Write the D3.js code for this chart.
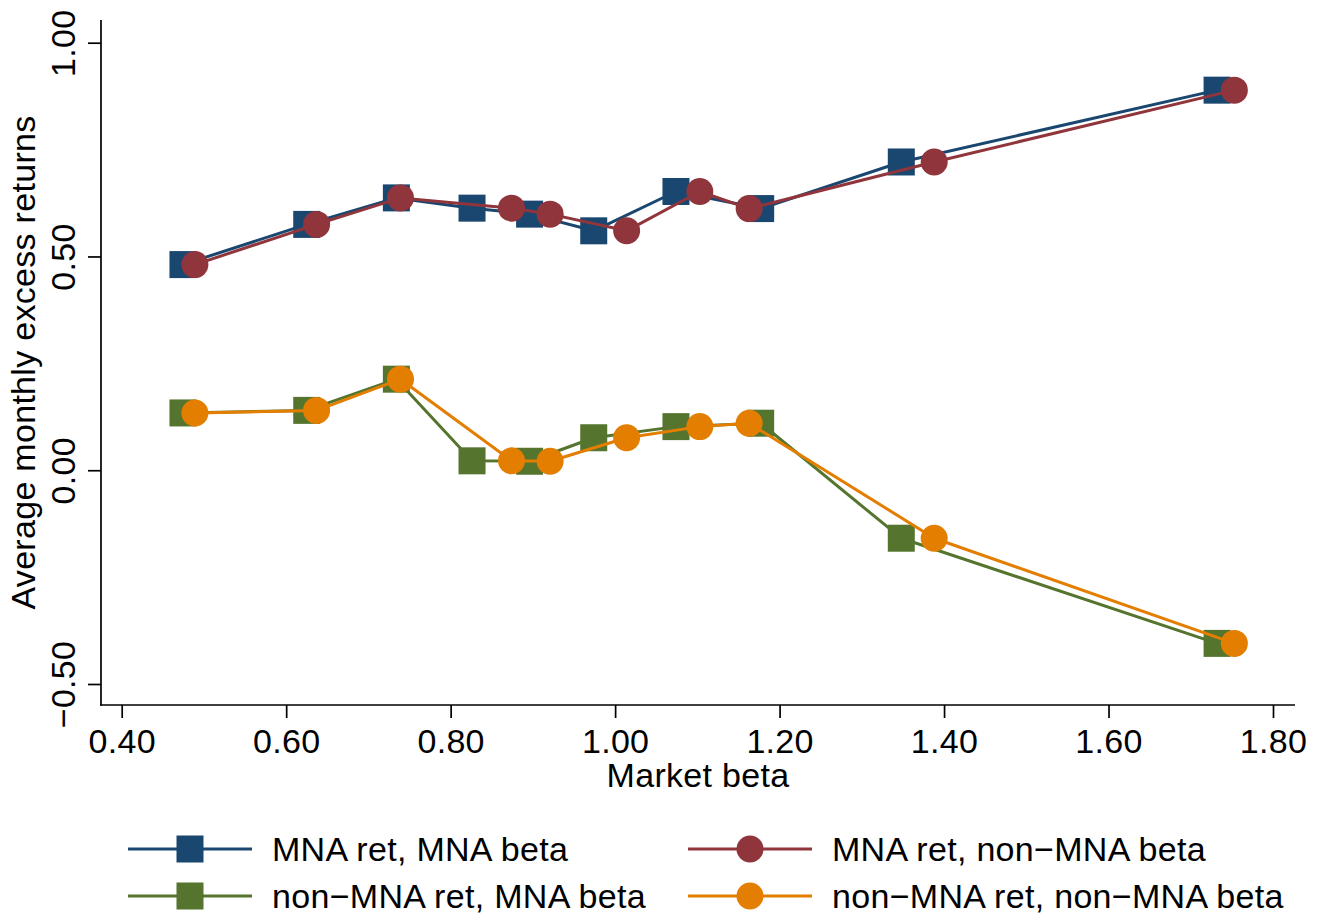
<!DOCTYPE html>
<html>
<head>
<meta charset="utf-8">
<script src="https://cdn.jsdelivr.net/npm/d3@7"></script>
<style>
  html, body { margin: 0; padding: 0; background: #fff; }
  svg { display: block; }
  text { font-family: "Liberation Sans", Arial, Helvetica, sans-serif; fill: #000; }
</style>
</head>
<body>
<svg id="chart" width="1325" height="917"></svg>
<script>
// ---- data ----
const betaMNA    = [0.4745, 0.625, 0.734, 0.826, 0.896, 0.974, 1.074, 1.177, 1.348, 1.732];
const betaNonMNA = [0.489, 0.637, 0.739, 0.874, 0.921, 1.014, 1.103, 1.163, 1.388, 1.753];
const retMNA     = [0.481, 0.575, 0.637, 0.613, 0.599, 0.560, 0.652, 0.612, 0.721, 0.889];
const retNonMNA  = [0.134, 0.140, 0.213, 0.022, 0.021, 0.076, 0.102, 0.110, -0.159, -0.405];

const xTicks = [0.4, 0.6, 0.8, 1.0, 1.2, 1.4, 1.6, 1.8];
const yTicks = [-0.5, 0.0, 0.5, 1.0];

const seriesNames  = ["MNA ret, MNA beta", "MNA ret, non\u2212MNA beta", "non\u2212MNA ret, MNA beta", "non\u2212MNA ret, non\u2212MNA beta"];
const seriesColors = ["#1a476f", "#90353b", "#55752f", "#e37e00"];
const seriesShapes = ["square", "circle", "square", "circle"];
const seriesX = [betaMNA, betaNonMNA, betaMNA, betaNonMNA];
const seriesY = [retMNA, retMNA, retNonMNA, retNonMNA];

// ---- layout ----
const svg = d3.select("#chart");
const plot = { left: 101, right: 1295, top: 20, bottom: 705 };

const x = d3.scaleLinear().domain([0.4, 1.8]).range([121.7, 1273]);
const y = d3.scaleLinear().domain([-0.5, 1.0]).range([684, 42.7]);

const fontSize = 34;
const ls = "0.3px";
const fmt = v => (v < 0 ? "\u2212" : "") + Math.abs(v).toFixed(2);

// axes
const xAxis = d3.axisBottom(x).tickValues(xTicks).tickSize(13).tickPadding(6).tickFormat(fmt);
const gx = svg.append("g").attr("transform", `translate(0,${plot.bottom})`).call(xAxis);
gx.select(".domain").remove();
gx.selectAll(".tick line").attr("stroke", "#000").attr("stroke-width", 1.7);
gx.selectAll(".tick text").attr("font-size", fontSize).attr("dy", null).attr("y", 48)
  .style("font-family", '"Liberation Sans", Arial, sans-serif').style("letter-spacing", ls);

const yAxis = d3.axisLeft(y).tickValues(yTicks).tickSize(13).tickFormat(fmt);
const gy = svg.append("g").attr("transform", `translate(${plot.left},0)`).call(yAxis);
gy.select(".domain").remove();
gy.selectAll(".tick line").attr("stroke", "#000").attr("stroke-width", 1.7);
gy.selectAll(".tick text")
  .attr("font-size", fontSize)
  .attr("x", null).attr("dy", null)
  .attr("text-anchor", "middle")
  .attr("transform", "translate(-26,0) rotate(-90)")
  .style("font-family", '"Liberation Sans", Arial, sans-serif').style("letter-spacing", ls);

// axis lines
svg.append("line").attr("x1", plot.left).attr("x2", plot.left).attr("y1", plot.top).attr("y2", plot.bottom + 0.8)
  .attr("stroke", "#000").attr("stroke-width", 1.7);
svg.append("line").attr("x1", plot.left - 0.8).attr("x2", plot.right).attr("y1", plot.bottom).attr("y2", plot.bottom)
  .attr("stroke", "#000").attr("stroke-width", 1.7);

// axis titles
svg.append("text").attr("x", (plot.left + plot.right) / 2).attr("y", 787)
  .attr("text-anchor", "middle").attr("font-size", fontSize).style("letter-spacing", ls).text("Market beta");
svg.append("text").attr("transform", `translate(35,${(plot.top + plot.bottom) / 2}) rotate(-90)`)
  .attr("text-anchor", "middle").attr("font-size", fontSize).style("letter-spacing", ls).text("Average monthly excess returns");

// ---- series ----
const mSize = 27;
function drawMarker(g, shape, cx, cy, color) {
  if (shape === "square") {
    g.append("rect").attr("x", cx - mSize / 2).attr("y", cy - mSize / 2)
      .attr("width", mSize).attr("height", mSize).attr("fill", color);
  } else {
    g.append("circle").attr("cx", cx).attr("cy", cy).attr("r", mSize / 2).attr("fill", color);
  }
}

const line = d3.line().x(d => x(d[0])).y(d => y(d[1]));
seriesNames.forEach((name, i) => {
  const pts = seriesX[i].map((xv, j) => [xv, seriesY[i][j]]);
  const g = svg.append("g");
  g.append("path").attr("d", line(pts)).attr("fill", "none")
    .attr("stroke", seriesColors[i]).attr("stroke-width", 3).attr("stroke-linejoin", "round");
  pts.forEach(p => drawMarker(g, seriesShapes[i], x(p[0]), y(p[1]), seriesColors[i]));
});

// ---- legend ----
const legendPos = [
  { lx: 128, ly: 849 }, { lx: 688, ly: 849 },
  { lx: 128, ly: 896 }, { lx: 688, ly: 896 }
];
seriesNames.forEach((name, i) => {
  const p = legendPos[i];
  const g = svg.append("g");
  g.append("line").attr("x1", p.lx).attr("x2", p.lx + 124).attr("y1", p.ly).attr("y2", p.ly)
    .attr("stroke", seriesColors[i]).attr("stroke-width", 3);
  drawMarker(g, seriesShapes[i], p.lx + 62, p.ly, seriesColors[i]);
  g.append("text").attr("x", p.lx + 144).attr("y", p.ly + 12).attr("font-size", fontSize)
    .style("letter-spacing", ls).text(name);
});
</script>
</body>
</html>
